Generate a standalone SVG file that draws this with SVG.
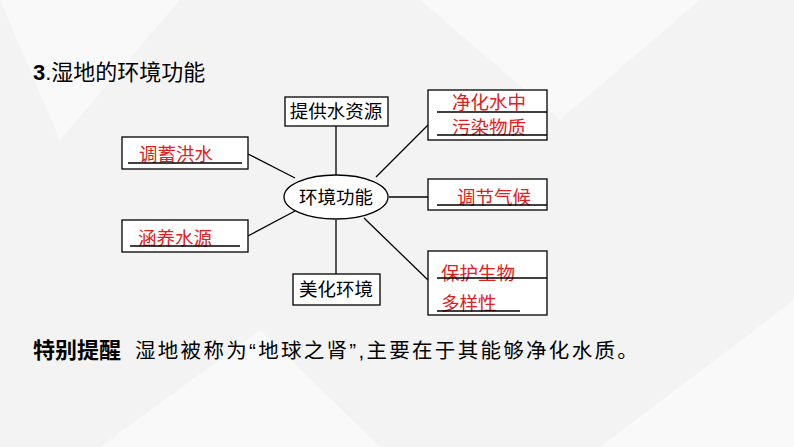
<svg xmlns="http://www.w3.org/2000/svg" width="794" height="447" viewBox="0 0 794 447">
<style>
.b{fill:#fff;stroke:#000;stroke-width:1.3}
.t{font-family:"Liberation Sans","Noto Sans CJK SC",sans-serif;font-size:18.5px;fill:#000}
.r{fill:#e02020}
.u{stroke:#000;stroke-width:1.3}
.c line{stroke:#000;stroke-width:1.3}
</style>
<rect width="794" height="447" fill="#f3f3f3"/>
<g fill="#fafafa" opacity="0.8">
<polygon points="0,0 180,0 60,140"/><polygon points="420,0 700,0 560,120"/><polygon points="600,447 794,300 794,447"/><polygon points="100,447 260,330 380,447"/>
</g>
<text x="33" y="80" class="t" style="font-size:22px"><tspan font-weight="bold">3</tspan>.湿地的环境功能</text>
<g class="c">
<line x1="336" y1="126" x2="336" y2="175"/><line x1="336" y1="220" x2="336" y2="274"/>
<line x1="248" y1="154" x2="295" y2="178"/><line x1="248" y1="236" x2="295" y2="211"/>
<line x1="376" y1="177" x2="428" y2="125"/><line x1="389" y1="197" x2="428" y2="197"/>
<line x1="364" y1="218" x2="428" y2="280"/>
</g>
<g id="center"><ellipse cx="336" cy="197" rx="52" ry="22" class="b"/><text x="336" y="204" class="t" text-anchor="middle">环境功能</text></g>
<g id="n1"><rect x="285" y="97" width="103" height="29" class="b"/><text x="336" y="118" class="t" text-anchor="middle">提供水资源</text></g>
<g id="n2"><rect x="293" y="274" width="87" height="31" class="b"/><text x="336" y="296" class="t" text-anchor="middle">美化环境</text></g>
<g id="n3"><rect x="122" y="137" width="126" height="32" class="b"/><text x="139" y="161" class="t r">调蓄洪水</text><line x1="128" y1="163" x2="242" y2="163" class="u"/></g>
<g id="n4"><rect x="122" y="220" width="126" height="32" class="b"/><text x="138" y="245" class="t r">涵养水源</text><line x1="130" y1="246" x2="240" y2="246" class="u"/></g>
<g id="n5"><rect x="428" y="90" width="119" height="50" class="b"/><text x="452" y="109" class="t r">净化水中</text><line x1="437" y1="112" x2="547" y2="112" class="u"/><text x="452" y="134" class="t r">污染物质</text><line x1="437" y1="135" x2="547" y2="135" class="u"/></g>
<g id="n6"><rect x="428" y="179" width="119" height="31" class="b"/><text x="457" y="204" class="t r">调节气候</text><line x1="437" y1="205" x2="547" y2="205" class="u"/></g>
<g id="n7"><rect x="428" y="251" width="119" height="64" class="b"/><text x="441" y="280" class="t r">保护生物</text><line x1="437" y1="278" x2="547" y2="278" class="u"/><text x="441" y="310" class="t r">多样性</text><line x1="437" y1="311" x2="520" y2="311" class="u"/></g>
<text x="33" y="358" class="t" style="font-size:20.5px"><tspan font-weight="bold" style="font-size:22px">特别提醒</tspan><tspan x="135" letter-spacing="2.3">湿地被称为“地球之肾”,主要在于其能够净化水质。</tspan></text>
</svg>
